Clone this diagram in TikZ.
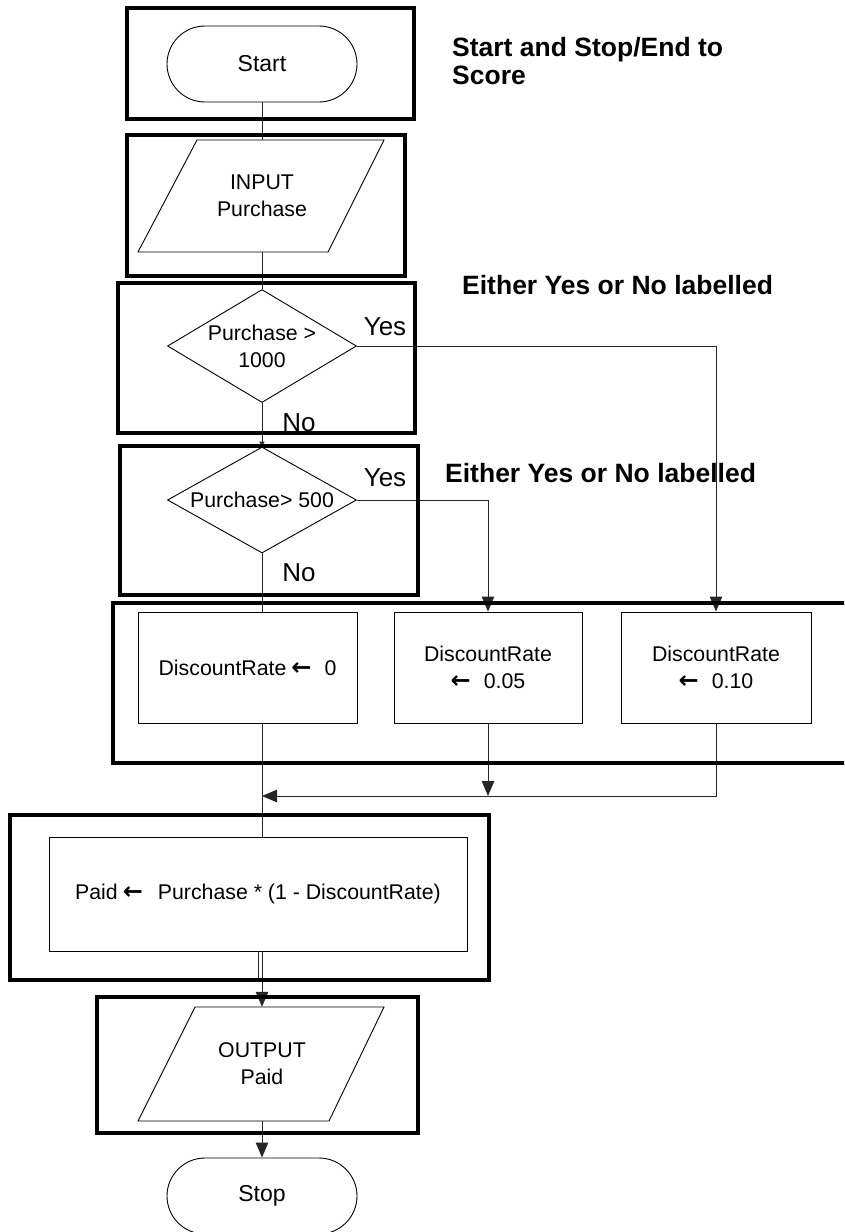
\documentclass[tikz,border=0pt]{standalone}
\usepackage{fontspec}
\setmainfont{Liberation Sans}
\newfontfamily\arrfont{DejaVu Sans}
\usetikzlibrary{shapes.geometric,arrows.meta}
\newcommand{\fdtxt}{\fontsize{21.3}{27}\selectfont}
\newcommand{\fdterm}{\fontsize{23}{27}\selectfont}
\newcommand{\fdyn}{\fontsize{26}{30}\selectfont}
\newcommand{\fdnote}{\fontsize{26.5}{28}\selectfont\bfseries}
\newcommand{\larr}{{\arrfont\bfseries\fontsize{24}{27}\selectfont ←}}
\begin{document}
\begin{tikzpicture}[x=1pt,y=-1pt,
  frame/.style={draw, line width=4.5pt},
  conn/.style={draw, line width=1pt, black!85},
  arr/.style={conn, -{Triangle[width=12.5pt,length=15pt]}},
  term/.style={draw, line width=0.9pt, rounded corners=38pt, minimum width=190pt, minimum height=76pt, inner sep=0pt, font=\fdterm},
  dec/.style={draw, diamond, line width=0.9pt, inner xsep=-12pt, inner ysep=-6pt, shape aspect=1.67, align=center, font=\fdtxt},
  proc/.style={draw, rectangle, line width=0.9pt, inner sep=0pt, align=center, font=\fdtxt},
  io/.style={rectangle, inner sep=0pt, align=center, font=\fdtxt},
  yn/.style={font=\fdyn, inner sep=0pt},
  note/.style={font=\fdnote, inner sep=0pt, anchor=west, align=left}
]
\useasboundingbox (0,0) rectangle (844,1232);
\clip (0,0) rectangle (844,1232);

% nodes
\node[term] (start) at (262,64) {Start};
\node[io, minimum width=190pt, minimum height=112pt] (in) at (262,196) {INPUT\\Purchase};
\draw[line width=0.9pt] (197,140) -- (384,140) -- (328,252) -- (138,252) -- cycle;
\node[dec, minimum width=189pt, minimum height=113pt] (d1) at (262,346) {Purchase >\\1000};
\node[dec, minimum width=189pt, minimum height=106pt] (d2) at (262,500) {Purchase> 500};
\node[proc, minimum width=219pt, minimum height=111pt] (bA) at (247.5,667.5) {DiscountRate\hspace{5pt}\larr\hspace{13pt}0};
\node[proc, minimum width=188pt, minimum height=111pt] (bB) at (488,667.5) {DiscountRate\\\larr\hspace{13pt}0.05};
\node[proc, minimum width=190pt, minimum height=111pt] (bC) at (716,667.5) {DiscountRate\\\larr\hspace{13pt}0.10};
\node[proc, minimum width=418pt, minimum height=114pt] (paid) at (258,894) {Paid\hspace{5pt}\larr\hspace{15pt}Purchase * (1 - DiscountRate)};
\node[io, minimum width=190pt, minimum height=114pt] (out) at (262,1064) {OUTPUT\\Paid};
\draw[line width=0.9pt] (195,1007) -- (384,1007) -- (329,1121) -- (138,1121) -- cycle;
\node[term] (stop) at (262,1196) {Stop};

% labels
\node[yn] (y1) at (385,327) {Yes};
\node[yn] (n1) at (299,423) {No};
\node[yn] (y2) at (385,478) {Yes};
\node[yn] (n2) at (299,573) {No};
\node[note] (note1) at (452,61) {Start and Stop/End to\\Score};
\node[note] (note2) at (462,285) {Either Yes or No labelled};
\node[note] (note3) at (445,473) {Either Yes or No labelled};

% connectors
\draw[conn] (start) -- (in);
\draw[conn] (in) -- (d1);
\draw[conn, -{Triangle[width=5pt,length=5pt]}] (d1) -- (d2);
\draw[conn] (d2.south) -- (d2.south |- bA.north);
\draw[arr] (d1.east) -| (bC.north);
\draw[arr] (d2.east) -| (bB.north);
\draw[conn] (d2.south |- bA.south) -- (d2.south |- paid.north);
\coordinate (m) at (262,796);
\draw[arr] (bC.south) |- (m);
\draw[arr] (bB.south) -- (bB.south |- m);
\draw[arr] (out.north |- paid.south) -- (out.north);
\draw[conn] ([xshift=-3.5pt]out.north |- paid.south) -- ++(0,29);
\draw[arr] (out) -- (stop);

% thick frames
\draw[frame] (127,8) rectangle (414,119);
\draw[frame] (127,135) rectangle (405,276);
\draw[frame] (118,283) rectangle (415,433);
\draw[frame] (120,446) rectangle (418,595);
\draw[frame] (113,603) rectangle (900,763);
\draw[frame] (10,815) rectangle (489,980);
\draw[frame] (97,997) rectangle (418,1133);
\end{tikzpicture}
\end{document}
